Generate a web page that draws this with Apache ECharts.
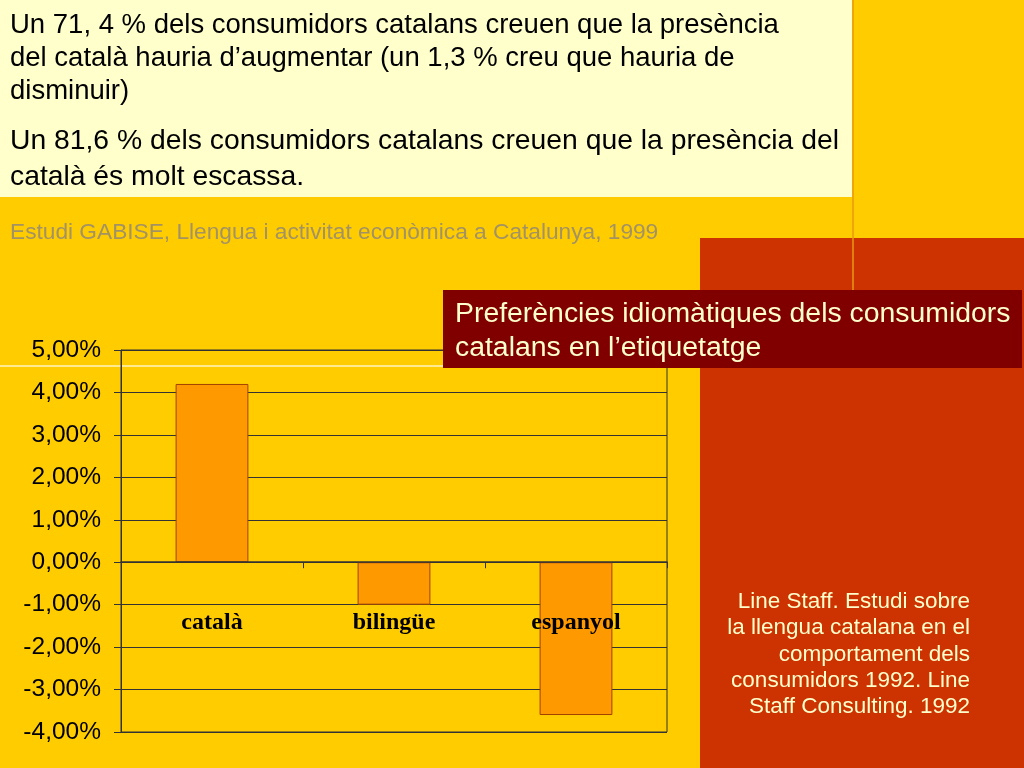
<!DOCTYPE html>
<html>
<head>
<meta charset="utf-8">
<script src="https://cdn.jsdelivr.net/npm/echarts@6/dist/echarts.min.js"></script>
<style>
  html, body { margin: 0; padding: 0; }
  #chart { width: 1024px; height: 768px; }
</style>
</head>
<body>
<div id="chart"></div>
<script>
// dades llegides del gràfic
const categories = ['català', 'bilingüe', 'espanyol'];
const values = [4.2, -1.0, -3.6];
const yMin = -4, yMax = 5, yStep = 1;

const introLines = [
  'Un 71, 4 % dels consumidors catalans creuen que la presència',
  'del català hauria d\u2019augmentar (un 1,3 % creu que hauria de',
  'disminuir)',
  'Un 81,6 % dels consumidors catalans creuen que la presència del',
  'català és molt escassa.'
];
const sourceTop = 'Estudi GABISE, Llengua i activitat econòmica a Catalunya, 1999';
const titleLines = ['Preferències idiomàtiques dels consumidors', 'catalans en l\u2019etiquetatge'];
const sourceRight = [
  'Line Staff. Estudi sobre',
  'la llengua catalana en el',
  'comportament dels',
  'consumidors 1992. Line',
  'Staff Consulting. 1992'
];

const chart = echarts.init(document.getElementById('chart'));

const font = 'Liberation Sans, Arial, sans-serif';
const introY = [25, 58, 91, 141, 177];
const introSize = [27.5, 27.5, 27.5, 28.3, 28.3];
const rightY = [602, 628, 655, 681, 707];

const graphics = [
  // fons de la diapositiva
  { type: 'rect', z: 1, shape: { x: 0, y: 0, width: 852, height: 197 }, style: { fill: '#FFFFCC' } },
  { type: 'rect', z: 1, shape: { x: 700, y: 238, width: 324, height: 530 }, style: { fill: '#CC3300' } },
  { type: 'line', z: 1, shape: { x1: 853, y1: 0, x2: 853, y2: 290 }, style: { stroke: '#E89A10', lineWidth: 1.5 } },
  { type: 'line', z: 1, shape: { x1: 0, y1: 366, x2: 443, y2: 366 }, style: { stroke: '#FFF4C0', lineWidth: 1.5 } },
  { type: 'rect', z: 100, shape: { x: 443, y: 290, width: 579, height: 78 }, style: { fill: '#800000' } }
];

introLines.forEach((t, i) => {
  graphics.push({ type: 'text', z: 2, style: { text: t, x: 10, y: introY[i], fill: '#000', font: introSize[i] + 'px ' + font, textAlign: 'left', textVerticalAlign: 'middle' } });
});
graphics.push({ type: 'text', z: 2, style: { text: sourceTop, x: 10, y: 233, fill: '#A39264', font: '22.7px ' + font, textAlign: 'left', textVerticalAlign: 'middle' } });
titleLines.forEach((t, i) => {
  graphics.push({ type: 'text', z: 101, style: { text: t, x: 455, y: 314 + i * 34, fill: '#FFFFCC', font: '28.4px ' + font, textAlign: 'left', textVerticalAlign: 'middle' } });
});
sourceRight.forEach((t, i) => {
  graphics.push({ type: 'text', z: 2, style: { text: t, x: 970, y: rightY[i], fill: '#FFFFCC', font: '22.5px ' + font, textAlign: 'right', textVerticalAlign: 'middle' } });
});

const option = {
  backgroundColor: '#FFCC00',
  animation: false,
  graphic: graphics,
  grid: {
    left: 121, right: 357, top: 350, bottom: 36,
    outerBoundsMode: 'none',
    show: true, borderColor: '#333', borderWidth: 1, backgroundColor: 'transparent', z: 5
  },
  xAxis: {
    type: 'category',
    data: categories,
    z: 8,
    axisLine: { onZero: true, lineStyle: { color: '#333', width: 1.5 } },
    axisTick: { show: true, inside: false, length: 6, lineStyle: { color: '#333' } },
    // etiquetes just sota la línia de -1 %
    axisLabel: { margin: -121, color: '#000', fontFamily: 'Liberation Serif, Times New Roman, serif', fontWeight: 'bold', fontSize: 24 }
  },
  yAxis: {
    type: 'value',
    min: yMin, max: yMax, interval: yStep,
    z: 6,
    axisLine: { show: true, lineStyle: { color: '#333', width: 1 } },
    axisTick: { show: true, length: 7, lineStyle: { color: '#333' } },
    splitLine: { show: true, lineStyle: { color: '#333', width: 1.2 } },
    axisLabel: {
      margin: 20, color: '#000', fontFamily: font, fontSize: 24.5,
      formatter: v => v.toFixed(2).replace('.', ',') + '%'
    }
  },
  series: [{
    type: 'bar',
    data: values,
    z: 7,
    barWidth: '40%',
    itemStyle: { color: '#FF9900', borderColor: '#A04000', borderWidth: 1 }
  }]
};

chart.setOption(option);
</script>
</body>
</html>
